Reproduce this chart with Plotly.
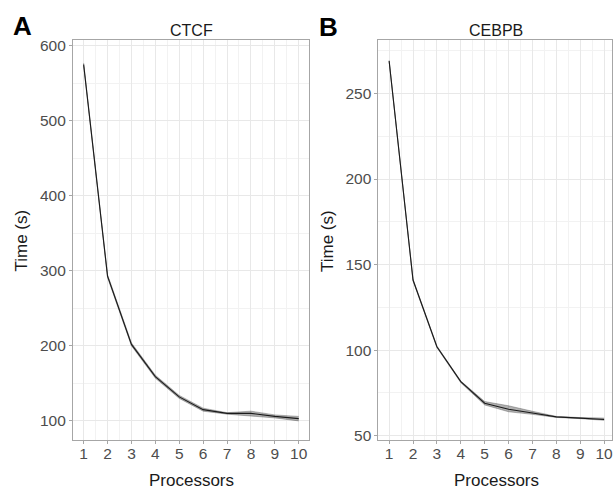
import plotly.graph_objects as go

# data
processors = [1, 2, 3, 4, 5, 6, 7, 8, 9, 10]

ctcf_mean = [575, 293, 202, 159, 132, 115, 110, 110, 106, 103]
ctcf_low = [573, 291, 200, 157, 130, 113, 109, 107, 104, 100]
ctcf_high = [577, 295, 204, 161, 134, 117, 111, 113, 108, 106]

cebpb_mean = [269, 141, 102, 81.6, 69, 65.5, 63.3, 61, 60.3, 59.5]
cebpb_low = [268.5, 140.5, 101.5, 81, 68, 64, 62.5, 60.7, 60, 59]
cebpb_high = [269.5, 141.5, 102.5, 82, 70, 67.5, 64.3, 61.3, 60.6, 60.3]

W, H = 613, 490
FONT = "Liberation Sans, Arial, sans-serif"


def px_x(v):
    return v / W


def px_y(v):
    return 1 - v / H


fig = go.Figure()


def add_panel(xa, ya, low, mean, high):
    fig.add_trace(go.Scatter(x=processors, y=low, mode="lines",
                             line=dict(color="rgba(70,70,70,0.6)", width=0.6),
                             xaxis=xa, yaxis=ya, showlegend=False, hoverinfo="skip"))
    fig.add_trace(go.Scatter(x=processors, y=high, mode="lines",
                             line=dict(color="rgba(70,70,70,0.6)", width=0.6),
                             fill="tonexty", fillcolor="rgba(60,60,60,0.4)",
                             xaxis=xa, yaxis=ya, showlegend=False, hoverinfo="skip"))
    fig.add_trace(go.Scatter(x=processors, y=mean, mode="lines",
                             line=dict(color="#1a1a1a", width=1.1),
                             xaxis=xa, yaxis=ya, showlegend=False))


add_panel("x", "y", ctcf_low, ctcf_mean, ctcf_high)
add_panel("x2", "y2", cebpb_low, cebpb_mean, cebpb_high)

ydom = [px_y(443), px_y(38)]

common = dict(
    showline=True, linecolor="#a6a6a6", linewidth=1, mirror=True,
    ticks="outside", ticklen=3, tickcolor="#a6a6a6",
    tickfont=dict(family=FONT, size=15.5, color="#4d4d4d"),
    showgrid=True, gridcolor="#e8e8e8", gridwidth=0.8, zeroline=False,
    ticklabeloverflow="allow",
)
minor_style = dict(showgrid=True, gridcolor="#f2f2f2", gridwidth=0.6)

fig.update_layout(
    width=W, height=H,
    margin=dict(l=0, r=0, t=0, b=0),
    plot_bgcolor="white", paper_bgcolor="white",
    xaxis=dict(domain=[px_x(73), px_x(310)], range=[0.55, 10.45], dtick=1, tick0=1,
               minor=dict(dtick=0.5, tick0=0.5, **minor_style), ticklabelstandoff=-3,
               anchor="y", **common),
    yaxis=dict(domain=ydom, range=[75, 607], dtick=100, tick0=0,
               minor=dict(dtick=50, tick0=0, **minor_style),
               anchor="x", **common),
    xaxis2=dict(domain=[px_x(379), 1.0], range=[0.55, 10.33], dtick=1, tick0=1,
                minor=dict(dtick=0.5, tick0=0.5, **minor_style), ticklabelstandoff=-3,
                anchor="y2", **common),
    yaxis2=dict(domain=ydom, range=[47.7, 281], dtick=50, tick0=0,
                minor=dict(dtick=25, tick0=0, **minor_style),
                anchor="x2", **common),
)

ann = []
title_font = dict(family=FONT, size=16, color="#1a1a1a")
axis_font = dict(family=FONT, size=17, color="#1a1a1a")
letter_font = dict(family=FONT, size=26, color="black")

ann.append(dict(text="CTCF", x=px_x(191.5), y=px_y(28), font=title_font))
ann.append(dict(text="CEBPB", x=px_x(497), y=px_y(28), font=title_font))
ann.append(dict(text="<b>A</b>", x=px_x(22.5), y=px_y(23), font=letter_font))
ann.append(dict(text="<b>B</b>", x=px_x(329.5), y=px_y(24), font=letter_font))
ann.append(dict(text="Processors", x=px_x(191.5), y=px_y(484), font=axis_font))
ann.append(dict(text="Processors", x=px_x(497), y=px_y(484), font=axis_font))
ann.append(dict(text="Time (s)", x=px_x(22), y=px_y(241), textangle=-90, font=axis_font))
ann.append(dict(text="Time (s)", x=px_x(328), y=px_y(241), textangle=-90, font=axis_font))

for a in ann:
    a.update(xref="paper", yref="paper", showarrow=False, xanchor="center", yanchor="middle")
fig.update_layout(annotations=ann)

# the page has a default body margin; remove it so the figure sits at the top-left corner
fig.write_html("out.html", config={"displayModeBar": False},
               post_script="document.body.style.margin='0';document.body.style.overflow='hidden';")
